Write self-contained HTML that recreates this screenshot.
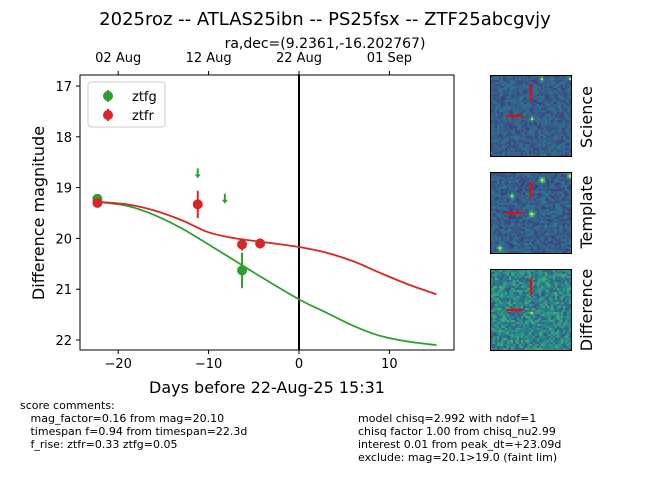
<!DOCTYPE html>
<html><head><meta charset="utf-8"><style>
body{margin:0;background:#fff;font-family:"Liberation Sans","DejaVu Sans",sans-serif}
svg text{font-family:"DejaVu Sans","Liberation Sans",sans-serif}
.c{position:absolute;border:1px solid #000;width:80px;height:80px}
.cm{position:absolute;font-size:11px;line-height:13px;white-space:pre;font-family:"DejaVu Sans","Liberation Sans",sans-serif}
</style></head><body>
<div style="position:relative;width:650px;height:500px;overflow:hidden">
<svg id="s" width="650" height="500" style="position:absolute;left:0;top:0">
<text x="325" y="25" font-size="18" text-anchor="middle">2025roz -- ATLAS25ibn -- PS25fsx -- ZTF25abcgvjy</text>
<text x="325" y="48" font-size="14" text-anchor="middle">ra,dec=(9.2361,-16.202767)</text>
<text x="267" y="393" font-size="16" text-anchor="middle">Days before 22-Aug-25 15:31</text>
<text transform="translate(44,213) rotate(-90)" font-size="16" text-anchor="middle">Difference magnitude</text>
<g id="g"></g>
</svg>
<canvas id="c1" class="c" style="left:490px;top:75px" width="80" height="80"></canvas>
<canvas id="c2" class="c" style="left:490px;top:172px" width="80" height="80"></canvas>
<canvas id="c3" class="c" style="left:490px;top:269px" width="80" height="80"></canvas>
<svg width="650" height="500" style="position:absolute;left:0;top:0;pointer-events:none">
<text transform="translate(592,117) rotate(-90)" font-size="16" text-anchor="middle">Science</text>
<text transform="translate(592,212) rotate(-90)" font-size="16" text-anchor="middle">Template</text>
<text transform="translate(592,310) rotate(-90)" font-size="16" text-anchor="middle">Difference</text>
</svg>
<div class="cm" style="left:20px;top:399px">score comments:
   mag_factor=0.16 from mag=20.10
   timespan f=0.94 from timespan=22.3d
   f_rise: ztfr=0.33 ztfg=0.05</div>
<div class="cm" style="left:358px;top:412px">model chisq=2.992 with ndof=1
chisq factor 1.00 from chisq_nu2.99
interest 0.01 from peak_dt=+23.09d
exclude: mag=20.1&gt;19.0 (faint lim)</div>
</div>
<script>
const xTicks=[-20,-10,0,10];
const yTicks=[17,18,19,20,21,22];
const topTicks=[-20,-10,0,10];
const topLabels=["02 Aug","12 Aug","22 Aug","01 Sep"];
const gT=[-22.3,-6.3], gM=[19.22,20.63], gE=[0.08,0.35];
const rT=[-22.3,-11.2,-6.3,-4.3], rM=[19.30,19.33,20.12,20.10], rE=[0.06,0.27,0.12,0.1];
const gLimT=[-11.2,-8.2], gLimM=[18.72,19.22];
const curveT=[-22.3,-19,-16,-13,-10,-7,-4,0,3,6,9,12,15.2];
const redCurve=[19.28,19.33,19.45,19.64,19.88,20.0,20.07,20.17,20.28,20.45,20.68,20.9,21.1];
const greenCurve=[19.28,19.36,19.54,19.8,20.12,20.45,20.78,21.2,21.46,21.72,21.92,22.03,22.1];
const X0=80,X1=454,Y0=75,Y1=350;
const x=t=>299+t*9.04, y=m=>86+(m-17)*50.8;
const g=document.getElementById('g'),NS='http://www.w3.org/2000/svg';
function el(n,a,p){const e=document.createElementNS(NS,n);for(const k in a)e.setAttribute(k,a[k]);(p||g).appendChild(e);return e;}
const fr=el('rect',{x:X0,y:Y0,width:X1-X0,height:Y1-Y0,fill:'none',stroke:'#000','stroke-width':1});


xTicks.forEach(t=>{el('line',{x1:x(t),x2:x(t),y1:Y1,y2:Y1+4,stroke:'#000'});
 const tx=el('text',{x:x(t),y:Y1+18,'font-size':13,'text-anchor':'middle'});tx.textContent=t<0?'\u2212'+(-t):t;
 
 });
topTicks.forEach((t,i)=>{el('line',{x1:x(t),x2:x(t),y1:Y0,y2:Y0-4,stroke:'#000'});
 const tx=el('text',{x:x(t),y:Y0-13,'font-size':13,'text-anchor':'middle'});tx.textContent=topLabels[i];
 
 });
yTicks.forEach(m=>{el('line',{x1:X0,x2:X0-4,y1:y(m),y2:y(m),stroke:'#000'});
 const tx=el('text',{x:X0-8,y:y(m)+5,'font-size':13,'text-anchor':'end'});tx.textContent=m;
 
 });
const vl=el('line',{x1:x(0),x2:x(0),y1:Y0,y2:Y1,stroke:'#000','stroke-width':2});


function curve(T,M,c,n){const P=T.map((t,i)=>[x(t),y(M[i])]);let d='M'+P[0];
 for(let i=0;i<P.length-1;i++){const p0=P[Math.max(0,i-1)],p1=P[i],p2=P[i+1],p3=P[Math.min(P.length-1,i+2)];
  const c1=[p1[0]+(p2[0]-p0[0])/6,p1[1]+(p2[1]-p0[1])/6],c2=[p2[0]-(p3[0]-p1[0])/6,p2[1]-(p3[1]-p1[1])/6];
  d+='C'+c1+' '+c2+' '+p2;}
 const p=el('path',{d:d,fill:'none',stroke:c,'stroke-width':1.8});
 
 }
curve(curveT,greenCurve,'#2ca02c','ztfg-model-curve');
curve(curveT,redCurve,'#d62728','ztfr-model-curve');
function pts(T,M,E,c,n){T.forEach((t,i)=>{el('line',{x1:x(t),x2:x(t),y1:y(M[i]-E[i]),y2:y(M[i]+E[i]),stroke:c,'stroke-width':2});
 const ci=el('circle',{cx:x(t),cy:y(M[i]),r:5,fill:c});
 
 });}
pts(gT,gM,gE,'#2ca02c','ztfg-point');
pts(rT,rM,rE,'#d62728','ztfr-point');
gLimT.forEach((t,i)=>{const X=x(t),Y=y(gLimM[i]);
 el('line',{x1:X,x2:X,y1:Y-5,y2:Y+3,stroke:'#2ca02c','stroke-width':2});
 const a=el('path',{d:`M${X-3},${Y+1}L${X+3},${Y+1}L${X},${Y+5}Z`,fill:'#2ca02c'});
 
 });
const lg=el('g',{});


el('rect',{x:88,y:82,width:77,height:45,rx:3,fill:'#fff',stroke:'#ccc'},lg);
[['ztfg','#2ca02c',96],['ztfr','#d62728',115]].forEach(([n,c,yy])=>{
 el('line',{x1:108,x2:108,y1:yy-6,y2:yy+6,stroke:c,'stroke-width':2},lg);
 el('circle',{cx:108,cy:yy,r:5,fill:c},lg);
 const t=el('text',{x:132,y:yy+5,'font-size':13},lg);t.textContent=n;});
let seed=7;function rnd(){seed=(seed*16807)%2147483647;return seed/2147483647;}
const vir=[[68,1,84],[59,82,139],[33,145,140],[94,201,98],[253,231,37]];
function col(v){v=Math.max(0,Math.min(0.999,v));const i=Math.floor(v*4),f=v*4-i,a=vir[i],b=vir[i+1];return `rgb(${a.map((q,k)=>Math.round(q+(b[k]-q)*f)).join(',')})`;}
function cut(id,base,sp,stars){const c=document.getElementById(id).getContext('2d');
 for(let i=0;i<40;i++)for(let j=0;j<40;j++){let v=base+(rnd()-0.5)*sp;
  stars.forEach(([sx,sy,r])=>{const d=(i-sx)**2+(j-sy)**2;v+=Math.exp(-d/r)*0.8;});
  c.fillStyle=col(v);c.fillRect(i*2,j*2,2,2);}
 c.fillStyle='#f00';c.fillRect(39,8,2,17);c.fillRect(15,39,17,2);}
cut('c1',0.3,0.22,[[20,21,0.8],[25,1,0.6],[39,1,0.5]]);
cut('c2',0.3,0.25,[[20,20,1.5],[25,3,1.5],[10,11,1],[39,1,1],[4,37,1.2]]);
cut('c3',0.45,0.4,[[20,21,0.6]]);
</script>
</body></html>
